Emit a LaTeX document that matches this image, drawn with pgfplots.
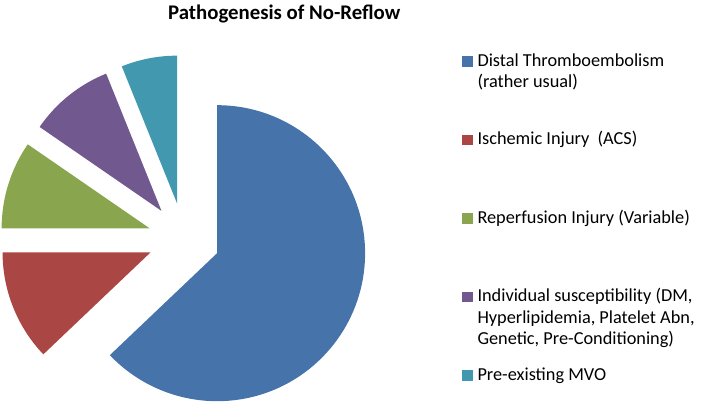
\documentclass[border=0pt]{standalone}
\usepackage{fontspec}
\setmainfont{Carlito}
\usepackage{pgfplots}
\usepackage{pgfplotstable}
\pgfplotsset{compat=1.18}
\definecolor{cblue}{HTML}{4674AA}
\definecolor{cred}{HTML}{AA4643}
\definecolor{cgreen}{HTML}{89A54E}
\definecolor{cpurple}{HTML}{71588F}
\definecolor{cteal}{HTML}{4198AF}

% share of each cause, percent (clockwise from 12 o'clock)
\pgfplotstableread{
colour  value
cblue   62.9
cred    12.1
cgreen  9.6
cpurple 9.3
cteal   6.1
}\piedata

\begin{document}
\begin{tikzpicture}
\begin{axis}[
  width=702pt, height=403pt, scale only axis,
  xmin=0, xmax=702, ymin=0, ymax=403,
  hide axis, clip=false,
  % square marker; the invisible path fixes each legend row to the same pitch
  legend image code/.code={
    \path[draw=none, fill=none] (0pt,-60pt) rectangle (0pt,14pt);
    \fill[#1, draw=none] (0pt,-0.5pt) rectangle (10.5pt,10pt);},
  legend style={at={(axis cs:462,350.5)}, anchor=north west,
    draw=none, fill=none, inner sep=0pt, outer sep=0pt,
    row sep=4.4pt, column sep=5pt,
    nodes={inner sep=0pt, outer sep=0pt},
    cells={anchor=base west},
    font=\fontsize{18.3}{21.5}\selectfont},
]
\pgfplotsextra{
  \def\cx{184}\def\cy{164}\def\dd{36}\def\rr{148}
  \xdef\pcum{0}
  \foreach \i in {0,...,4}{
    \pgfplotstablegetelem{\i}{value}\of\piedata \let\v\pgfplotsretval
    \pgfplotstablegetelem{\i}{colour}\of\piedata \let\col\pgfplotsretval
    \pgfmathsetmacro\sa{90-3.6*\pcum}
    \pgfmathsetmacro\ea{90-3.6*(\pcum+\v)}
    \pgfmathsetmacro\ma{(\sa+\ea)/2}
    \pgfmathsetmacro\ax{\cx+\dd*cos(\ma)}
    \pgfmathsetmacro\ay{\cy+\dd*sin(\ma)}
    \pgfmathsetmacro\bx{\ax+\rr*cos(\sa)}
    \pgfmathsetmacro\by{\ay+\rr*sin(\sa)}
    \fill[fill=\col] (axis cs:\ax,\ay) -- (axis cs:\bx,\by)
      arc[start angle=\sa, end angle=\ea, radius=\rr pt] -- cycle;
    \pgfmathsetmacro\n{\pcum+\v}\xdef\pcum{\n}
  }
}
\addlegendimage{fill=cblue}
\addlegendentry{\parbox[t]{222pt}{Distal Thromboembolism\\(rather usual)}}
\addlegendimage{fill=cred}
\addlegendentry{\parbox[t]{222pt}{Ischemic Injury~ (ACS)}}
\addlegendimage{fill=cgreen}
\addlegendentry{\parbox[t]{222pt}{Reperfusion Injury (Variable)}}
\addlegendimage{fill=cpurple}
\addlegendentry{\parbox[t]{222pt}{Individual susceptibility (DM,\\Hyperlipidemia, Platelet Abn,\\Genetic, Pre-Conditioning)}}
\addlegendimage{fill=cteal}
\addlegendentry{\parbox[t]{222pt}{Pre-existing MVO}}
\node[anchor=base west, inner sep=0pt, font=\fontsize{20.8}{25}\selectfont\bfseries]
  at (axis cs:168,383) {Pathogenesis of No-Reflow};
\end{axis}
\pgfresetboundingbox
\path (current axis.south west) rectangle (current axis.north east);
\end{tikzpicture}
\end{document}
